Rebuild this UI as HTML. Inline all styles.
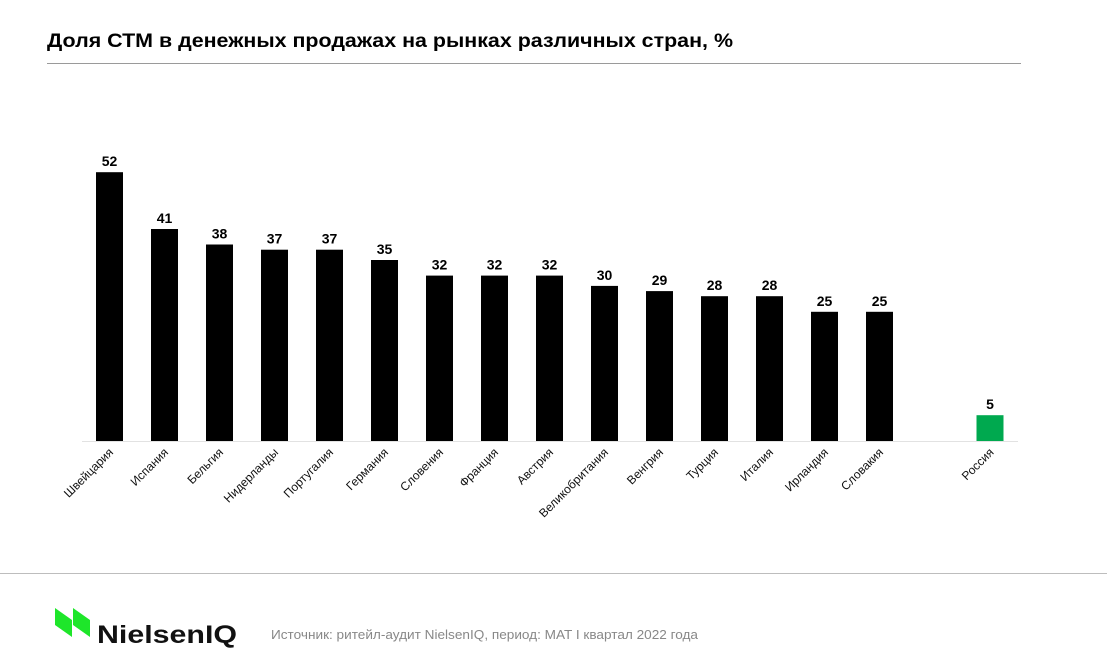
<!DOCTYPE html>
<html><head><meta charset="utf-8"><style>
html,body{margin:0;padding:0;background:#fff;}
svg{display:block;font-family:"Liberation Sans",sans-serif;}
</style></head><body>
<svg width="1107" height="667" viewBox="0 0 1107 667" xmlns="http://www.w3.org/2000/svg">
<text x="47" y="47" font-size="19" font-weight="bold" fill="#000" textLength="686" lengthAdjust="spacingAndGlyphs">Доля СТМ в денежных продажах на рынках различных стран, %</text>
<line x1="47" y1="63.5" x2="1021" y2="63.5" stroke="#9a9a9a" stroke-width="1"/>
<line x1="82" y1="441.5" x2="1018" y2="441.5" stroke="#e2e2e2" stroke-width="1"/>
<g fill="#000">
<rect x="96" y="172.2" width="27" height="268.8"/>
<rect x="151" y="229" width="27" height="212"/>
<rect x="206" y="244.5" width="27" height="196.5"/>
<rect x="261" y="249.7" width="27" height="191.3"/>
<rect x="316" y="249.7" width="27" height="191.3"/>
<rect x="371" y="260" width="27" height="181"/>
<rect x="426" y="275.6" width="27" height="165.4"/>
<rect x="481" y="275.6" width="27" height="165.4"/>
<rect x="536" y="275.6" width="27" height="165.4"/>
<rect x="591" y="285.9" width="27" height="155.1"/>
<rect x="646" y="291.1" width="27" height="149.9"/>
<rect x="701" y="296.2" width="27" height="144.8"/>
<rect x="756" y="296.2" width="27" height="144.8"/>
<rect x="811" y="311.8" width="27" height="129.2"/>
<rect x="866" y="311.8" width="27" height="129.2"/>
</g>
<rect x="976.5" y="415.2" width="27" height="25.8" fill="#00a94f"/>
<g font-size="14" font-weight="bold" text-anchor="middle" fill="#000">
<text x="109.5" y="166">52</text>
<text x="164.5" y="223">41</text>
<text x="219.5" y="238.5">38</text>
<text x="274.5" y="243.7">37</text>
<text x="329.5" y="243.7">37</text>
<text x="384.5" y="254">35</text>
<text x="439.5" y="269.6">32</text>
<text x="494.5" y="269.6">32</text>
<text x="549.5" y="269.6">32</text>
<text x="604.5" y="279.9">30</text>
<text x="659.5" y="285.1">29</text>
<text x="714.5" y="290.2">28</text>
<text x="769.5" y="290.2">28</text>
<text x="824.5" y="305.8">25</text>
<text x="879.5" y="305.8">25</text>
<text x="990" y="409.2">5</text>
</g>
<g font-size="12" text-anchor="end" fill="#111">
<text transform="translate(114,453) rotate(-45)">Швейцария</text>
<text transform="translate(169,453) rotate(-45)">Испания</text>
<text transform="translate(224,453) rotate(-45)">Бельгия</text>
<text transform="translate(279,453) rotate(-45)">Нидерланды</text>
<text transform="translate(334,453) rotate(-45)">Португалия</text>
<text transform="translate(389,453) rotate(-45)">Германия</text>
<text transform="translate(444,453) rotate(-45)">Словения</text>
<text transform="translate(499,453) rotate(-45)">Франция</text>
<text transform="translate(554,453) rotate(-45)">Австрия</text>
<text transform="translate(609,453) rotate(-45)">Великобритания</text>
<text transform="translate(664,453) rotate(-45)">Венгрия</text>
<text transform="translate(719,453) rotate(-45)">Турция</text>
<text transform="translate(774,453) rotate(-45)">Италия</text>
<text transform="translate(829,453) rotate(-45)">Ирландия</text>
<text transform="translate(884,453) rotate(-45)">Словакия</text>
<text transform="translate(994.5,453) rotate(-45)">Россия</text>
</g>
<line x1="0" y1="573.5" x2="1107" y2="573.5" stroke="#bdbdbd" stroke-width="1"/>
<polygon points="55,608 72,620 72,637 55,625" fill="#1ee62a"/>
<polygon points="73,608 90,620 90,637 73,625" fill="#1ee62a"/>
<text x="97" y="643" font-size="25" font-weight="bold" fill="#111" textLength="140" lengthAdjust="spacingAndGlyphs">NielsenIQ</text>
<text x="271" y="639" font-size="13" fill="#888" textLength="427" lengthAdjust="spacingAndGlyphs">Источник: ритейл-аудит NielsenIQ, период: MAT I квартал 2022 года</text>
</svg>
</body></html>
